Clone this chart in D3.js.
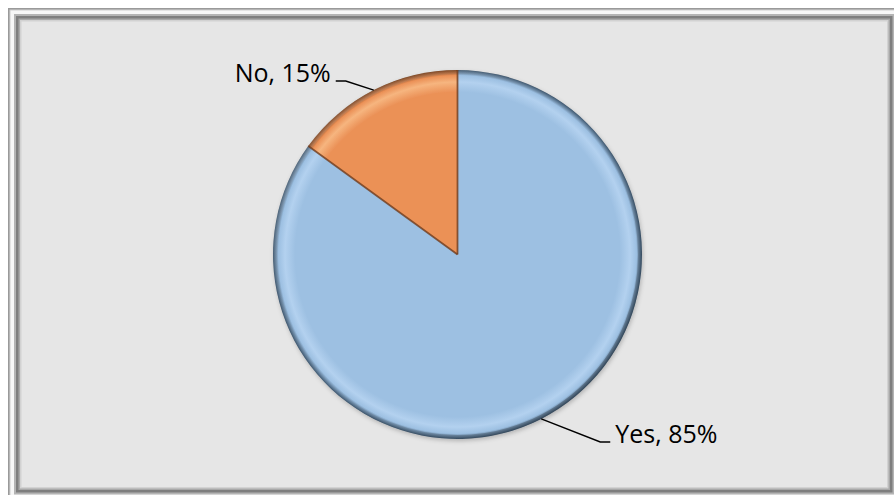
<!DOCTYPE html>
<html>
<head>
<meta charset="utf-8">
<script src="https://cdn.jsdelivr.net/npm/d3@7"></script>
<style>
  html, body { margin: 0; padding: 0; background: #ffffff; }
  svg { display: block; }
</style>
</head>
<body>
<svg id="chart" width="894" height="495"></svg>
<script>
// ---- data ----
const categories = ["Yes", "No"];
const values = [85, 15];
const labels = ["Yes, 85%", "No, 15%"];

// ---- layout ----
const cx = 457.5, cy = 254.5, R = 184.5;
const baseColors = ["#9dc0e2", "#eb9157"];
const lightColors = ["#b3d1ef", "#f6b57f"];
const darkColors = ["#3f5870", "#7a3e18"];

const svg = d3.select("#chart");
const defs = svg.append("defs");

// Frame
const frame = svg.append("g");
const bands = [
  { o: 0, fill: "#9a9a9a" },
  { o: 1.5, fill: "#cfcfcf" },
  { o: 2.5, fill: "#f7f7f7" },
  { o: 6, fill: "#b4b4b4" },
  { o: 8, fill: "#7e7e7e" },
  { o: 10.5, fill: "#a8a8a8" },
  { o: 12, fill: "#d2d2d2" },
  { o: 13.5, fill: "#e6e6e6" }
];
const fx0 = 8, fy0 = 8, fx1 = 900.5, fy1 = 500.5;
bands.forEach(b => {
  frame.append("rect")
    .attr("x", fx0 + b.o).attr("y", fy0 + b.o)
    .attr("width", (fx1 - fx0) - 2 * b.o)
    .attr("height", (fy1 - fy0) - 2 * b.o)
    .attr("fill", b.fill);
});

// Gradients (bevel effect), in pie-group coordinates
baseColors.forEach((c, i) => {
  const gr = defs.append("radialGradient")
    .attr("id", "grad" + i)
    .attr("gradientUnits", "userSpaceOnUse")
    .attr("cx", 0).attr("cy", 0).attr("r", R)
    .attr("fx", 0).attr("fy", 0);
  gr.append("stop").attr("offset", "0").attr("stop-color", c);
  gr.append("stop").attr("offset", "0.88").attr("stop-color", c);
  gr.append("stop").attr("offset", "0.935").attr("stop-color", lightColors[i]);
  gr.append("stop").attr("offset", "0.97").attr("stop-color", c);
  gr.append("stop").attr("offset", "1").attr("stop-color", darkColors[i]);
});
// directional rim shading: darker at bottom-right
const rim = defs.append("linearGradient").attr("id", "rim")
  .attr("x1", "0").attr("y1", "0").attr("x2", "1").attr("y2", "1");
rim.append("stop").attr("offset", "0").attr("stop-color", "#ffffff").attr("stop-opacity", 0.25);
rim.append("stop").attr("offset", "0.5").attr("stop-color", "#000000").attr("stop-opacity", 0.0);
rim.append("stop").attr("offset", "1").attr("stop-color", "#000000").attr("stop-opacity", 0.35);

const filt = defs.append("filter").attr("id", "shadow")
  .attr("x", "-10%").attr("y", "-10%").attr("width", "120%").attr("height", "120%");
filt.append("feDropShadow").attr("dx", 1).attr("dy", 2).attr("stdDeviation", 2)
  .attr("flood-color", "#000").attr("flood-opacity", 0.22);

const pie = d3.pie().sort(null).value(d => d).startAngle(0).endAngle(2 * Math.PI);
const arcs = pie(values);
const arc = d3.arc().innerRadius(0).outerRadius(R);

const g = svg.append("g").attr("transform", `translate(${cx},${cy})`);
g.append("g").attr("filter", "url(#shadow)")
  .selectAll("path")
  .data(arcs)
  .join("path")
  .attr("d", arc)
  .attr("fill", (d, i) => `url(#grad${i})`);

// rim overlay
g.append("circle").attr("r", R - 2).attr("fill", "none")
  .attr("stroke", "url(#rim)").attr("stroke-width", 4);

// slice separators
g.selectAll("path.edge")
  .data(arcs)
  .join("path")
  .attr("class", "edge")
  .attr("d", d => {
    const a = d.startAngle;
    return `M0,0L${R * Math.sin(a)},${-R * Math.cos(a)}`;
  })
  .attr("stroke", "#6e3a1a")
  .attr("stroke-width", 1.8)
  .attr("fill", "none")
  .attr("opacity", 0.8);

// Labels with leader lines (offsets from slice-edge midpoint, in px)
const labelLayout = [
  { dx: 59, dy: 23, tail: 10, side: 1 },
  { dx: -28, dy: -9, tail: -10, side: -1 }
];
const lab = svg.append("g");
arcs.forEach((d, i) => {
  const mid = (d.startAngle + d.endAngle) / 2;
  const L = labelLayout[i];
  const sx = cx + R * Math.sin(mid), sy = cy - R * Math.cos(mid);
  const ex = sx + L.dx, ey = sy + L.dy;
  const tx = ex + L.tail;
  lab.append("path")
    .attr("d", `M${sx},${sy}L${ex},${ey}L${tx},${ey}`)
    .attr("fill", "none").attr("stroke", "#000").attr("stroke-width", 1.5);
  lab.append("text")
    .attr("x", tx + L.side * 5)
    .attr("y", ey + 1)
    .attr("text-anchor", L.side > 0 ? "start" : "end")
    .attr("font-family", "'Open Sans', 'Noto Sans', sans-serif")
    .attr("font-size", 25)
    .attr("fill", "#000")
    .text(labels[i]);
});
</script>
</body>
</html>
